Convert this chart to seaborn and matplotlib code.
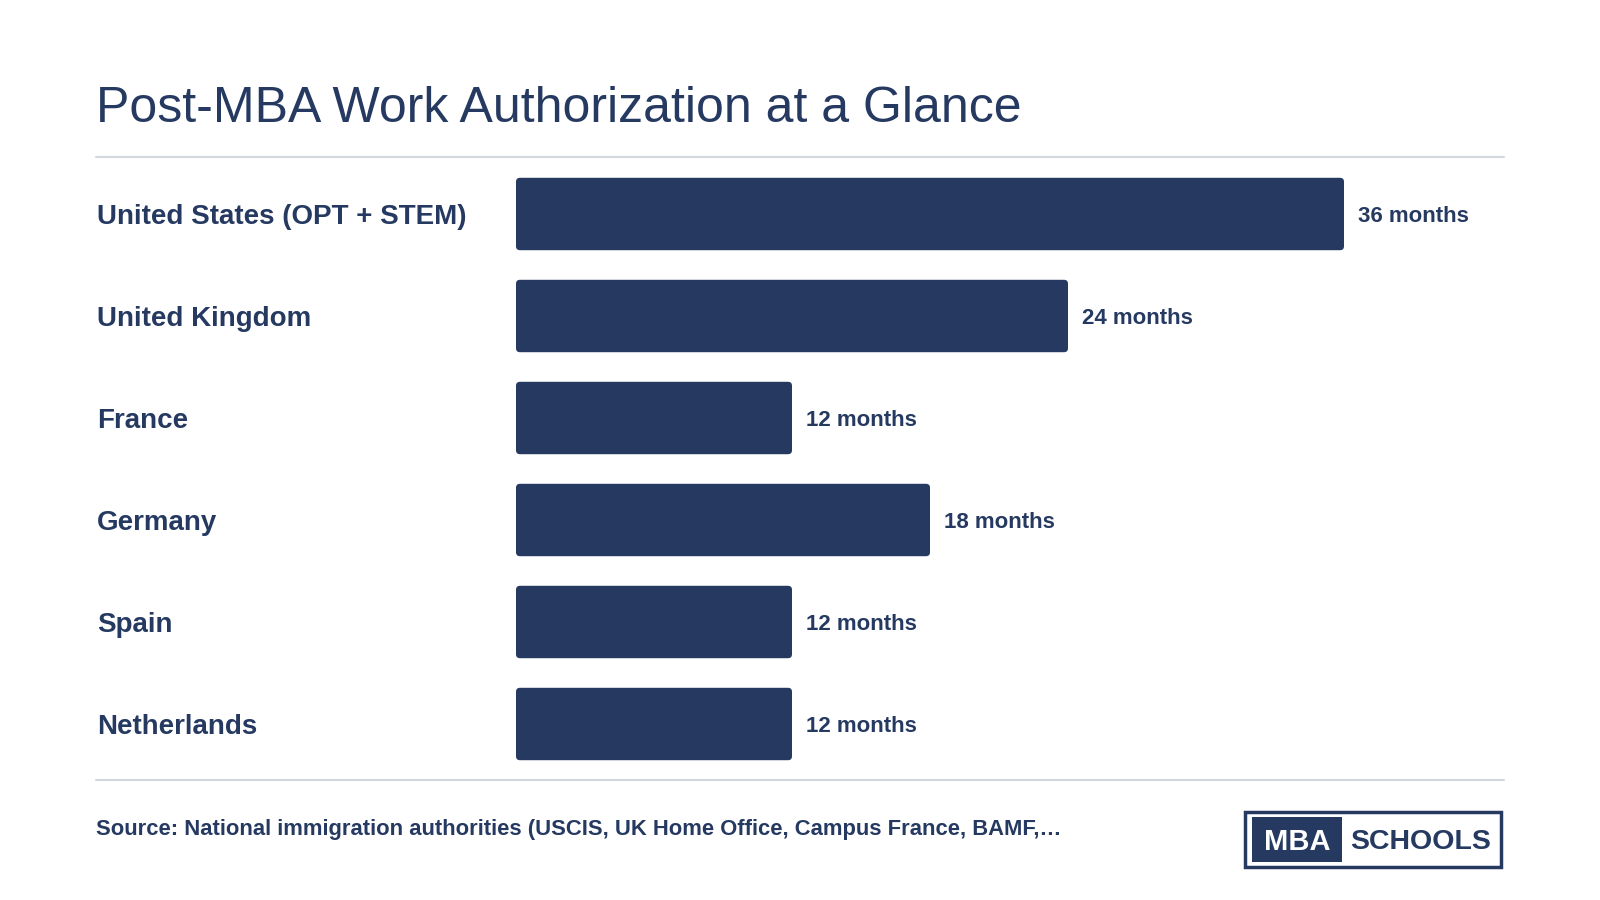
import matplotlib
matplotlib.use("Agg")
import matplotlib.pyplot as plt
import seaborn as sns
import pandas as pd
from matplotlib.patches import FancyBboxPatch, Rectangle
from matplotlib.transforms import blended_transform_factory
from matplotlib.lines import Line2D

# data
countries = ["United States (OPT + STEM)", "United Kingdom", "France",
             "Germany", "Spain", "Netherlands"]
months = [36, 24, 12, 18, 12, 12]
value_labels = [f"{m} months" for m in months]

title = "Post-MBA Work Authorization at a Glance"
source = "Source: National immigration authorities (USCIS, UK Home Office, Campus France, BAMF,\u2026"

NAVY = "#253961"
RULE = "#d3d7de"

sns.set_theme(style="white")
plt.rcParams['font.family'] = ['Liberation Sans', 'DejaVu Sans']

W, H = 1600, 900
fig = plt.figure(figsize=(16, 9), dpi=100)
fig.patch.set_facecolor("white")

# bar axes: x from 516px to 1504px, y from 163px to 775px
ax = fig.add_axes([516 / W, 1 - 775 / H, 988 / W, 612 / H])
df = pd.DataFrame({"country": countries, "months": months})
sns.barplot(data=df, x="months", y="country", color=NAVY, width=0.71,
            saturation=1, ax=ax)
ax.set_xlim(0, 36 * 988 / 828)
ax.set_ylim(5.5, -0.5)
ax.axis("off")

# swap plain rectangles for rounded ones
px_x = 828 / 36
px_y = 102
for p in list(ax.patches):
    x, y = p.get_x(), p.get_y()
    w, h = p.get_width(), p.get_height()
    p.remove()
    r = 4 / px_x
    box = FancyBboxPatch((x, y), w, h,
                         boxstyle=f"round,pad=0,rounding_size={r}",
                         mutation_aspect=px_x / px_y,
                         facecolor=NAVY, edgecolor="none")
    ax.add_patch(box)

trans = blended_transform_factory(fig.transFigure, ax.transData)
for i, (c, m, lab) in enumerate(zip(countries, months, value_labels)):
    ax.annotate(c, xy=(97 / W, i), xycoords=trans, xytext=(0, -2.5),
                textcoords="offset points", ha="left", va="center",
                fontsize=20, fontweight="bold", color=NAVY)
    ax.annotate(lab, xy=(m, i), xytext=(10, -1.5), textcoords="offset points",
                ha="left", va="center", fontsize=16, fontweight="bold",
                color=NAVY)

# title and rules
fig.text(96 / W, 1 - 109 / H, title, ha="left", va="center",
         fontsize=36, color=NAVY)
fig.add_artist(Line2D([96 / W, 1504 / W], [1 - 157 / H] * 2,
                      color=RULE, lw=1.5))
fig.add_artist(Line2D([96 / W, 1504 / W], [1 - 780 / H] * 2,
                      color=RULE, lw=1.5))

fig.text(96 / W, 1 - 830 / H, source, ha="left", va="center",
         fontsize=15.8, fontweight="bold", color=NAVY)

# logo
fig.add_artist(Rectangle((1245 / W, 1 - 867 / H), 256 / W, 55 / H,
                         transform=fig.transFigure, facecolor="white",
                         edgecolor=NAVY, lw=2.5))
fig.add_artist(Rectangle((1252 / W, 1 - 862 / H), 90 / W, 45 / H,
                         transform=fig.transFigure, facecolor=NAVY,
                         edgecolor="none"))
fig.text(1297 / W, 1 - 842 / H, "MBA", ha="center", va="center",
         fontsize=21, fontweight="bold", color="white")
fig.text(1421 / W, 1 - 842 / H, "SCHOOLS", ha="center", va="center",
         fontsize=20.5, fontweight="bold", color=NAVY)

fig.savefig("out.png", dpi=100, facecolor="white")
